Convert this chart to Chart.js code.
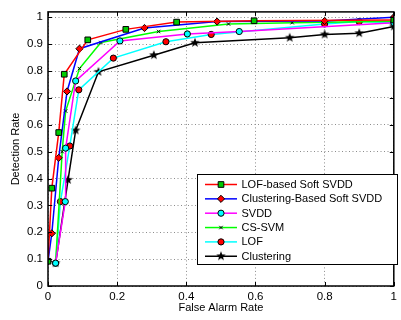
<!DOCTYPE html>
<html>
<head>
<meta charset="utf-8">
<script src="https://cdn.jsdelivr.net/npm/chart.js@4/dist/chart.umd.min.js"></script>
<style>
  html, body { margin: 0; padding: 0; background: #fff; }
  #wrap { width: 401px; height: 320px; }
</style>
</head>
<body>
<div id="wrap"><canvas id="c" width="401" height="320"></canvas></div>
<script>
// ROC points (false alarm rate, detection rate)
var seriesNames = ['LOF-based Soft SVDD', 'Clustering-Based Soft SVDD', 'SVDD', 'CS-SVM', 'LOF', 'Clustering']

var lofSoftFar = [0, 0.011, 0.031, 0.047, 0.115, 0.225, 0.372, 0.596, 1]
var lofSoftDr  = [0.092, 0.364, 0.571, 0.788, 0.916, 0.955, 0.982, 0.987, 0.99]

var clusSoftFar = [0, 0.011, 0.031, 0.055, 0.091, 0.279, 0.489, 0.8, 1]
var clusSoftDr  = [0.092, 0.196, 0.477, 0.724, 0.883, 0.960, 0.984, 0.986, 1.0]

var svddFar = [0.022, 0.05, 0.051, 0.08, 0.208, 0.403, 0.553, 1]
var svddDr  = [0.085, 0.314, 0.513, 0.763, 0.912, 0.938, 0.947, 0.98]

var cssvmFar = [0.022, 0.041, 0.051, 0.091, 0.153, 0.32, 0.522, 0.706, 1]
var cssvmDr  = [0.085, 0.50, 0.651, 0.809, 0.906, 0.947, 0.975, 0.98, 0.985]

var lofFar = [0.022, 0.036, 0.063, 0.089, 0.189, 0.341, 0.472, 0.8, 0.9, 1]
var lofDr  = [0.085, 0.314, 0.521, 0.730, 0.848, 0.909, 0.936, 0.975, 0.984, 0.98]

var clusFar = [0.022, 0.058, 0.08, 0.146, 0.306, 0.425, 0.699, 0.8, 0.9, 1]
var clusDr  = [0.085, 0.395, 0.579, 0.797, 0.859, 0.905, 0.924, 0.936, 0.941, 0.966]

var xTicks = [0, 0.2, 0.4, 0.6, 0.8, 1]
var yTicks = [0, 0.1, 0.2, 0.3, 0.4, 0.5, 0.6, 0.7, 0.8, 0.9, 1]

function pts(xs, ys) {
    return xs.map(function(x, i) { return { x: x, y: ys[i] } })
}

// filled pentagram like matlab's 'p' marker
function makeStar(r) {
    var cv = document.createElement('canvas')
    var s = Math.ceil(r * 2 + 2)
    cv.width = s; cv.height = s
    var g = cv.getContext('2d')
    g.beginPath()
    for (var i = 0; i < 10; i++) {
        var rr = i % 2 === 0 ? r : r * 0.42
        var a = -Math.PI / 2 + i * Math.PI / 5
        var px = s / 2 + rr * Math.cos(a), py = s / 2 + rr * Math.sin(a)
        if (i === 0) g.moveTo(px, py); else g.lineTo(px, py)
    }
    g.closePath()
    g.fillStyle = '#000'
    g.fill()
    return cv
}
var starImg = makeStar(5)

var styles = [
    { line: '#ff0000', style: 'rect',     fill: '#00cc00', radius: 4 },
    { line: '#0000ff', style: 'rectRot',  fill: '#ff0000', radius: 3.6 },
    { line: '#ff00ff', style: 'circle',   fill: '#00ffff', radius: 3.1 },
    { line: '#00ff00', style: 'crossRot', fill: '#000000', radius: 2.4 },
    { line: '#00ffff', style: 'circle',   fill: '#ff0000', radius: 3.1 },
    { line: '#000000', style: starImg,    fill: '#000000', radius: 5 }
]
var allPts = [
    pts(lofSoftFar, lofSoftDr), pts(clusSoftFar, clusSoftDr), pts(svddFar, svddDr),
    pts(cssvmFar, cssvmDr), pts(lofFar, lofDr), pts(clusFar, clusDr)
]

var datasets = seriesNames.map(function(name, i) {
    var st = styles[i]
    return {
        label: name,
        data: allPts[i],
        borderColor: st.line,
        borderWidth: 1.5,
        pointStyle: st.style,
        pointRadius: st.radius,
        pointBackgroundColor: st.fill,
        pointBorderColor: '#000',
        pointBorderWidth: 1,
        tension: 0,
        order: i
    }
})

var FONT = '"Liberation Sans", Arial, Helvetica, sans-serif'

function fmt(v) {
    if (Math.abs(v) < 1e-9) return '0'
    if (Math.abs(v - 1) < 1e-9) return '1'
    return v.toFixed(1)
}

function keepTicks(list) {
    return function(scale) {
        scale.ticks = list.map(function(v) { return { value: v } })
    }
}

// box, inward ticks and the legend panel, matlab style
var frame = {
    id: 'frame',
    afterDraw: function(chart) {
        var ctx = chart.ctx, a = chart.chartArea
        var xs = chart.scales.x, ys = chart.scales.y
        ctx.save()
        ctx.strokeStyle = '#000'
        ctx.lineWidth = 1
        ctx.beginPath()
        xTicks.forEach(function(v) {
            var p = Math.round(xs.getPixelForValue(v)) + 0.5
            ctx.moveTo(p, a.bottom); ctx.lineTo(p, a.bottom - 4)
            ctx.moveTo(p, a.top); ctx.lineTo(p, a.top + 4)
        })
        yTicks.forEach(function(v) {
            var p = Math.round(ys.getPixelForValue(v)) + 0.5
            ctx.moveTo(a.left, p); ctx.lineTo(a.left + 4, p)
            ctx.moveTo(a.right, p); ctx.lineTo(a.right - 4, p)
        })
        ctx.stroke()
        ctx.lineWidth = 1.5
        ctx.strokeRect(a.left, a.top, a.right - a.left, a.bottom - a.top)

        // legend
        var bx = 197.5, by = 174.5, bw = 200, bh = 90
        ctx.fillStyle = '#fff'
        ctx.fillRect(bx, by, bw, bh)
        ctx.lineWidth = 1
        ctx.strokeRect(bx, by, bw, bh)
        ctx.font = '11px ' + FONT
        ctx.textBaseline = 'middle'
        chart.data.datasets.forEach(function(ds, i) {
            var y = 184.5 + i * 14.35
            ctx.strokeStyle = ds.borderColor
            ctx.lineWidth = 1.5
            ctx.beginPath()
            ctx.moveTo(205, y); ctx.lineTo(237, y)
            ctx.stroke()
            var mk = {
                pointStyle: ds.pointStyle, radius: ds.pointRadius, rotation: 0,
                borderWidth: 1
            }
            ctx.fillStyle = ds.pointBackgroundColor
            ctx.strokeStyle = '#000'
            ctx.lineWidth = 1
            Chart.helpers.drawPoint(ctx, mk, 221, y)
            ctx.fillStyle = '#000'
            ctx.fillText(ds.label, 241.5, y + 0.5)
        })
        ctx.restore()
    }
}

new Chart(document.getElementById('c'), {
    type: 'line',
    data: { datasets: datasets },
    options: {
        responsive: false,
        animation: false,
        devicePixelRatio: 1,
        layout: { padding: { top: 4, right: 3, left: 0, bottom: 0 } },
        plugins: {
            legend: { display: false },
            tooltip: { enabled: false }
        },
        scales: {
            x: {
                type: 'linear',
                min: 0, max: 1,
                afterBuildTicks: keepTicks(xTicks),
                afterFit: function(s) { s.height = 34 },
                grid: { color: '#8c8c8c', drawTicks: false, lineWidth: 1 },
                border: { display: false, dash: [1, 2.5] },
                ticks: {
                    padding: 4, color: '#000', maxRotation: 0,
                    font: { family: FONT, size: 11.5 },
                    callback: function(v) { return fmt(v) }
                },
                title: {
                    display: true, text: 'False Alarm Rate', color: '#000',
                    font: { family: FONT, size: 11 }, padding: { top: 1, bottom: 5 }
                }
            },
            y: {
                type: 'linear',
                min: 0, max: 1.02,
                afterBuildTicks: keepTicks(yTicks),
                afterFit: function(s) { s.width = 48 },
                grid: { color: '#8c8c8c', drawTicks: false, lineWidth: 1 },
                border: { display: false, dash: [1, 2.5] },
                ticks: {
                    padding: 5, color: '#000',
                    font: { family: FONT, size: 11.5 },
                    callback: function(v) { return fmt(v) }
                },
                title: {
                    display: true, text: 'Detection Rate', color: '#000',
                    font: { family: FONT, size: 11 }, padding: { top: 9.5, bottom: 0 }
                }
            }
        }
    },
    plugins: [frame]
})
</script>
</body>
</html>
